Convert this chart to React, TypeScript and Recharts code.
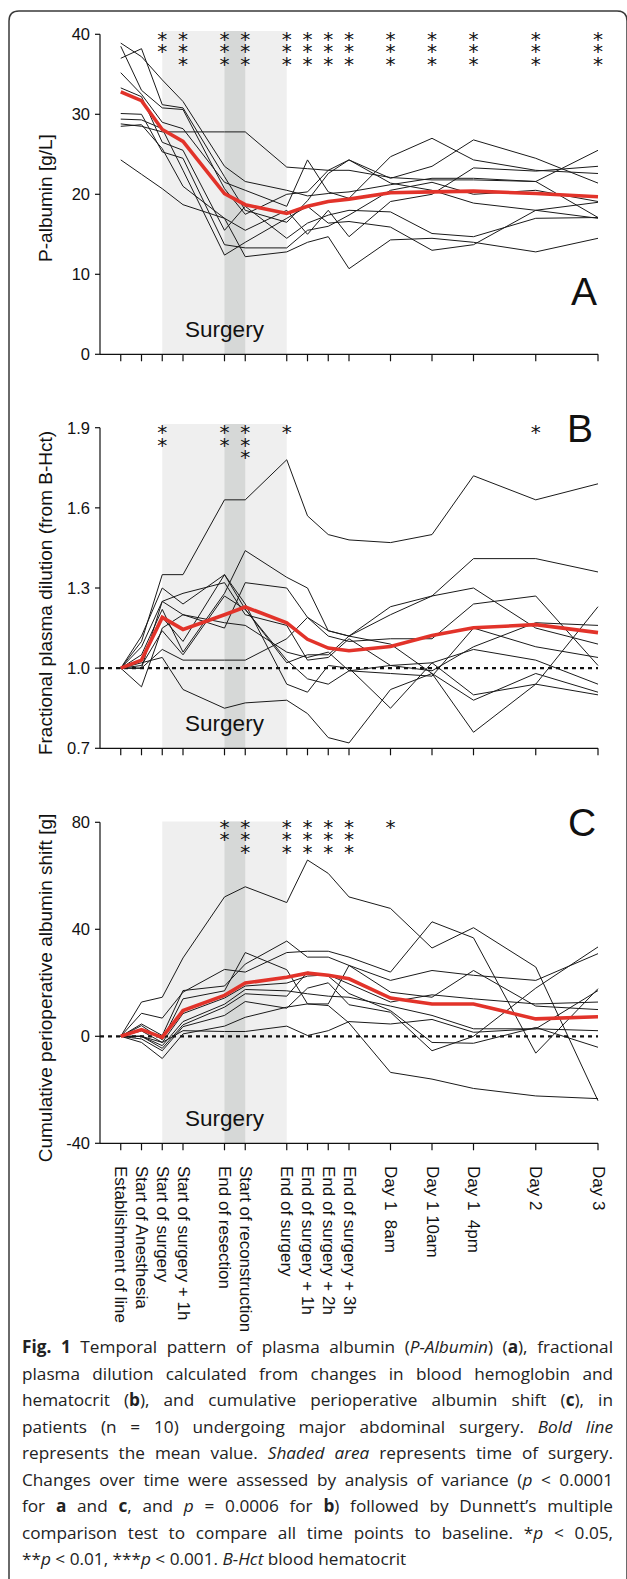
import React from "react";
import {
  ComposedChart,
  Line,
  XAxis,
  YAxis,
  ReferenceArea,
  ReferenceLine,
  Scatter,
} from "recharts";

// time axis (hours-ish, as spaced in the figure)
const timePoints = [0, 1, 2, 3, 5, 6, 8, 9, 10, 11, 13, 15, 17, 20, 23];
const timeLabels = [
  "Establishment of line",
  "Start of Anesthesia",
  "Start of surgery",
  "Start of surgery + 1h",
  "End of resection",
  "Start of reconstruction",
  "End of surgery",
  "End of surgery + 1h",
  "End of surgery + 2h",
  "End of surgery + 3h",
  "Day 1  8am",
  "Day 1 10am",
  "Day 1  4pm",
  "Day 2",
  "Day 3",
];

// A: P-albumin [g/L], one row per patient
const albuminPatients = [
  [38.9, 37.2, 34.3, 31.6, 23.5, 21.6, 20.5, 19.8, 20.1, 20.3, 21.2, 22.0, 22.0, 21.6, 17.1],
  [37.0, 38.2, 31.2, 30.8, 22.2, 18.0, 16.5, 19.2, 22.6, 24.3, 22.0, 23.5, 26.8, 24.5, 21.4],
  [28.8, 28.5, 27.8, 27.8, 27.8, 27.8, 23.4, 23.2, 23.0, 23.0, 22.1, 21.8, 21.8, 21.6, 25.5],
  [35.2, 32.5, 29.0, 28.2, 21.5, 20.5, 18.5, 24.3, 20.3, 19.5, 24.7, 27.0, 24.3, 23.0, 22.6],
  [38.5, 33.0, 30.8, 30.6, 20.7, 17.5, 20.0, 20.3, 23.0, 24.3, 21.4, 20.5, 18.9, 18.0, 17.0],
  [33.3, 32.2, 26.5, 25.5, 15.5, 18.5, 14.5, 16.4, 17.4, 18.0, 17.8, 15.1, 14.7, 17.0, 17.1],
  [30.1, 30.0, 25.3, 24.5, 13.7, 13.3, 13.3, 15.5, 16.0, 17.4, 20.5, 21.5, 20.0, 20.5, 19.1],
  [29.4, 29.3, 28.2, 23.0, 12.4, 14.0, 17.0, 18.5, 16.4, 16.6, 15.9, 13.0, 13.7, 18.0, 19.0],
  [28.5, 28.7, 25.7, 21.0, 17.0, 12.2, 12.8, 14.0, 14.7, 10.7, 14.3, 14.5, 14.0, 12.8, 14.5],
  [24.3, 22.5, 20.7, 18.7, 17.0, 15.5, 18.0, 15.0, 18.0, 14.7, 19.1, 20.0, 23.3, 22.9, 23.5],
];
const albuminMean = [32.8, 31.7, 28.1, 26.6, 20.1, 18.7, 17.6, 18.5, 19.1, 19.4, 20.2, 20.3, 20.4, 20.1, 19.7];
const albuminStars = [0, 0, 2, 3, 3, 3, 3, 3, 3, 3, 3, 3, 3, 3, 3];

// B: fractional plasma dilution
const dilutionPatients = [
  [1.0, 1.1, 1.35, 1.35, 1.63, 1.63, 1.78, 1.57, 1.5, 1.48, 1.47, 1.5, 1.72, 1.63, 1.69],
  [1.0, 1.05, 1.22, 1.06, 1.28, 1.44, 1.34, 1.3, 1.14, 1.12, 1.2, 1.27, 1.41, 1.41, 1.36],
  [1.0, 1.12, 1.3, 1.24, 1.35, 1.22, 1.02, 1.05, 1.05, 1.12, 1.23, 1.27, 1.3, 1.15, 1.09],
  [1.0, 1.08, 1.25, 1.2, 1.15, 1.32, 1.3, 1.19, 1.12, 1.1, 1.11, 1.11, 1.24, 1.27, 1.01],
  [1.0, 1.0, 1.25, 1.28, 1.32, 1.2, 1.16, 1.03, 1.04, 1.11, 1.01, 0.99, 1.08, 1.17, 1.16],
  [1.0, 1.01, 1.14, 1.05, 1.27, 1.22, 1.03, 0.96, 0.94, 0.99, 1.01, 1.02, 0.9, 0.94, 0.9],
  [1.0, 0.93, 1.15, 1.2, 1.17, 1.16, 1.06, 1.04, 1.06, 0.99, 0.98, 0.97, 1.15, 1.08, 1.04],
  [1.0, 1.0, 1.07, 1.03, 1.03, 1.03, 1.11, 1.19, 1.14, 1.12, 1.09, 0.98, 0.88, 0.98, 0.91],
  [1.0, 1.02, 1.04, 0.92, 0.85, 0.87, 0.88, 0.83, 0.74, 0.72, 0.92, 0.98, 0.76, 0.94, 1.23],
  [1.0, 1.03, 1.19, 1.1, 1.35, 1.24, 0.94, 0.91, 1.01, 1.0, 0.85, 1.02, 1.07, 1.03, 0.94],
];
const dilutionMean = [1.0, 1.03, 1.19, 1.145, 1.2, 1.229, 1.17, 1.108, 1.075, 1.065, 1.081, 1.122, 1.151, 1.163, 1.133];
const dilutionStars = [0, 0, 2, 0, 2, 3, 1, 0, 0, 0, 0, 0, 0, 1, 0];

// C: cumulative perioperative albumin shift [g]
const shiftPatients = [
  [0, 12.8, 14.6, 29.3, 52.1, 55.9, 50.0, 65.9, 60.9, 52.1, 47.8, 33.0, 40.6, 25.9, -24.1],
  [0, 8.6, 6.8, 16.5, 25.0, 24.0, 31.3, 31.8, 31.8, 29.6, 24.0, 42.8, 36.8, -6.3, 17.8],
  [0, 4.6, 0.3, 17.1, 18.8, 27.0, 35.6, 29.6, 29.6, 26.5, 20.9, 24.6, 22.8, 20.9, 30.9],
  [0, 4.0, -1.3, 14.0, 17.0, 31.3, 24.9, 12.1, 12.1, 26.5, 16.5, 14.6, 24.6, 11.3, 10.0],
  [0, 2.0, -2.3, 8.5, 14.3, 18.8, 19.9, 22.5, 23.0, 19.6, 12.8, 15.5, 14.0, 12.1, 12.8],
  [0, 0, -3.5, 5.5, 12.0, 17.5, 17.0, 15.9, 15.0, 14.6, 11.3, 7.8, 2.8, 2.8, 17.1],
  [0, 0, -4.5, 4.3, 10.9, 15.9, 15.0, 24.0, 22.5, 16.0, 9.6, -2.3, -2.6, 3.3, -4.1],
  [0, -1.0, -5.4, 3.6, 7.8, 13.0, 10.5, 18.0, 20.0, 11.8, 9.0, -5.4, 0, 18.0, 33.4],
  [0, -2.3, -8.3, 0.9, 3.8, 7.1, 10.9, 12.1, 11.5, 5.0, -13.5, -16.0, -19.5, -22.3, -23.3],
  [0, 0, -2.3, 2.1, 1.8, 1.8, 3.8, 0.3, 2.1, 5.5, 4.6, 6.3, 1.5, 2.8, 2.1],
];
const shiftMean = [0, 2.5, -0.4, 9.6, 15.3, 19.9, 22.1, 23.6, 22.8, 21.5, 14.3, 12.1, 12.1, 6.5, 7.3];
const shiftStars = [0, 0, 0, 0, 2, 3, 3, 3, 3, 3, 1, 0, 0, 0, 0];

const INK = "#111";
const RED = "#e2332a";

const buildRows = (patients: number[][], mean: number[]) =>
  timePoints.map((u, i) => {
    const row: Record<string, number> = { u, mean: mean[i] };
    patients.forEach((p, k) => {
      row[`p${k}`] = p[i];
    });
    return row;
  });

// one text per column: the run goes downwards, each glyph turned back upright
const StarShape = (props: any) => {
  const { cx, cy, payload } = props;
  return (
    <text
      transform={`translate(${cx},${cy}) rotate(90)`}
      x={11.5}
      y={5}
      rotate={-90}
      fontSize={20}
      fontFamily="'DejaVu Sans', sans-serif"
      letterSpacing={2.4}
      fill={INK}
    >
      {"*".repeat(payload.n)}
    </text>
  );
};

const TimeTick = (props: any) => {
  const { x, y, payload } = props;
  const i = timePoints.indexOf(payload.value);
  return (
    <text
      transform={`translate(${x},${y + 6}) rotate(90)`}
      textAnchor="start"
      dominantBaseline="central"
      fontSize={17}
      fill={INK}
      style={{ whiteSpace: "pre" }}
    >
      {timeLabels[i]}
    </text>
  );
};

type PanelCfg = {
  top: number;
  height: number;
  marginTop: number;
  axisHeight: number;
  domain: [number, number];
  ticks: number[];
  shadeTop: number;
  patients: number[][];
  mean: number[];
  stars: number[];
  baseline?: number;
  labels?: boolean;
  fmt?: (v: number) => string;
};

const Panel = ({ cfg }: { cfg: PanelCfg }) => {
  const rows = buildRows(cfg.patients, cfg.mean);
  const stars = timePoints
    .map((u, i) => ({ u, y: cfg.domain[1], n: cfg.stars[i] }))
    .filter((s) => s.n > 0);
  return (
    <div style={{ position: "absolute", left: 0, top: cfg.top }}>
      <ComposedChart
        width={627}
        height={cfg.height}
        data={rows}
        margin={{ top: cfg.marginTop, right: 29, bottom: 0, left: 30 }}
      >
        <XAxis
          dataKey="u"
          type="number"
          domain={[-1, 23]}
          ticks={timePoints}
          interval={0}
          height={cfg.axisHeight}
          tickSize={7}
          tickMargin={cfg.labels ? 9.7 : 2}
          tick={cfg.labels ? <TimeTick /> : () => <g />}
          stroke={INK}
          strokeWidth={1.2}
        />
        <YAxis
          type="number"
          domain={cfg.domain}
          ticks={cfg.ticks}
          interval={0}
          width={70}
          tickSize={5}
          tickMargin={5}
          tickFormatter={cfg.fmt}
          stroke={INK}
          strokeWidth={1.2}
          tick={{ fill: INK, fontSize: 16.5 }}
        />
        <ReferenceArea x1={2} x2={8} y1={cfg.domain[0]} y2={cfg.shadeTop} fill="#efefef" fillOpacity={1} stroke="none" ifOverflow="visible" />
        <ReferenceArea x1={5} x2={6} y1={cfg.domain[0]} y2={cfg.shadeTop} fill="#d6d8d7" fillOpacity={1} stroke="none" ifOverflow="visible" />
        <ReferenceArea
          x1={2}
          x2={8}
          y1={cfg.domain[0]}
          y2={cfg.shadeTop}
          fillOpacity={0}
          stroke="none"
          ifOverflow="visible"
          label={{ value: "Surgery", position: "insideBottom", offset: 17, fontSize: 22.5, fill: INK }}
        />
        {cfg.baseline !== undefined && (
          <ReferenceLine y={cfg.baseline} stroke={INK} strokeWidth={2.2} strokeDasharray="4 4" />
        )}
        {cfg.patients.map((_, k) => (
          <Line
            key={k}
            dataKey={`p${k}`}
            stroke="#1a1a1a"
            strokeWidth={1}
            dot={false}
            isAnimationActive={false}
          />
        ))}
        <Line dataKey="mean" stroke={RED} strokeWidth={3.6} dot={false} isAnimationActive={false} />
        <Scatter data={stars} dataKey="y" shape={StarShape} isAnimationActive={false} />
      </ComposedChart>
    </div>
  );
};

const panels: PanelCfg[] = [
  {
    top: 0,
    height: 380,
    marginTop: 34.3,
    axisHeight: 25.7,
    domain: [0, 40],
    ticks: [0, 10, 20, 30, 40],
    shadeTop: 40.41,
    patients: albuminPatients,
    mean: albuminMean,
    stars: albuminStars,
  },
  {
    top: 390,
    height: 380,
    marginTop: 37.7,
    axisHeight: 21.7,
    domain: [0.7, 1.9],
    ticks: [0.7, 1.0, 1.3, 1.6, 1.9],
    shadeTop: 1.914,
    patients: dilutionPatients,
    mean: dilutionMean,
    stars: dilutionStars,
    baseline: 1,
    fmt: (v: number) => v.toFixed(1),
  },
  {
    top: 790,
    height: 560,
    marginTop: 32.3,
    axisHeight: 206.7,
    domain: [-40, 80],
    ticks: [-40, 0, 40, 80],
    shadeTop: 80.29,
    patients: shiftPatients,
    mean: shiftMean,
    stars: shiftStars,
    baseline: 0,
    labels: true,
  },
];

const yTitles = [
  { text: "P-albumin [g/L]", y: 198 },
  { text: "Fractional plasma dilution (from B-Hct)", y: 593 },
  { text: "Cumulative perioperative albumin shift [g]", y: 988 },
];
const letters = [
  { text: "A", x: 584, y: 305 },
  { text: "B", x: 580, y: 442 },
  { text: "C", x: 582, y: 836 },
];

const captionLines: React.ReactNode[] = [
  <>
    <b>Fig. 1</b> Temporal pattern of plasma albumin (<i>P-Albumin</i>) (<b>a</b>), fractional
  </>,
  <>plasma dilution calculated from changes in blood hemoglobin and</>,
  <>
    hematocrit (<b>b</b>), and cumulative perioperative albumin shift (<b>c</b>), in
  </>,
  <>
    patients (n = 10) undergoing major abdominal surgery. <i>Bold line</i>
  </>,
  <>
    represents the mean value. <i>Shaded area</i> represents time of surgery.
  </>,
  <>
    Changes over time were assessed by analysis of variance (<i>p</i> &lt; 0.0001
  </>,
  <>
    for <b>a</b> and <b>c</b>, and <i>p</i> = 0.0006 for <b>b</b>) followed by Dunnett’s multiple
  </>,
  <>
    comparison test to compare all time points to baseline. *<i>p</i> &lt; 0.05,
  </>,
  <>
    **<i>p</i> &lt; 0.01, ***<i>p</i> &lt; 0.001. <i>B-Hct</i> blood hematocrit
  </>,
];

export default function App() {
  return (
    <div
      style={{
        position: "absolute",
        left: 0,
        top: 0,
        width: 627,
        height: 1579,
        overflow: "hidden",
        background: "#fff",
        fontFamily: "'Liberation Sans', Arial, sans-serif",
      }}
    >
      {panels.map((p, i) => (
        <Panel key={i} cfg={p} />
      ))}
      <svg
        width={627}
        height={1579}
        style={{ position: "absolute", left: 0, top: 0, pointerEvents: "none" }}
      >
        <path
          d="M 9 1590 L 9 21 Q 9 11 19 11 L 617 11 Q 627 11 627 21 L 627 1590"
          fill="none"
          stroke="#3a3a3a"
          strokeWidth={1.5}
        />
        {yTitles.map((t) => (
          <text
            key={t.text}
            transform={`translate(45,${t.y}) rotate(-90)`}
            textAnchor="middle"
            dominantBaseline="central"
            fontSize={19}
            fill={INK}
          >
            {t.text}
          </text>
        ))}
        {letters.map((l) => (
          <text key={l.text} x={l.x} y={l.y} textAnchor="middle" fontSize={39} fill={INK}>
            {l.text}
          </text>
        ))}
      </svg>
      <div
        style={{
          position: "absolute",
          left: 22,
          top: 1334,
          width: 591,
          fontFamily: "'Open Sans', sans-serif",
          fontSize: 17.2,
          lineHeight: "26.5px",
          color: "#222",
        }}
      >
        {captionLines.map((l, i) => (
          <div
            key={i}
            style={{
              textAlign: "justify",
              textAlignLast: i === captionLines.length - 1 ? "left" : "justify",
              textJustify: "inter-character",
            } as React.CSSProperties}
          >
            {l}
          </div>
        ))}
      </div>
    </div>
  );
}
